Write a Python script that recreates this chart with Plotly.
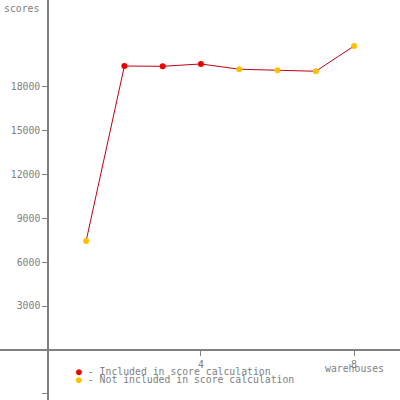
import plotly.graph_objects as go

warehouses = [1, 2, 3, 4, 5, 6, 7, 8]
scores = [7440, 19400, 19380, 19540, 19180, 19110, 19040, 20770]
included = [False, True, True, True, False, False, False, False]

y_tickvals = [-3000, 3000, 6000, 9000, 12000, 15000, 18000]
y_ticktext = ["", "3000", "6000", "9000", "12000", "15000", "18000"]
x_tickvals = [4, 8]
x_ticktext = ["4", "8"]

grey = "#808080"
font = dict(family="DejaVu Sans Mono", size=9.8, color=grey)

inc_x = [w for w, f in zip(warehouses, included) if f]
inc_y = [s for s, f in zip(scores, included) if f]
exc_x = [w for w, f in zip(warehouses, included) if not f]
exc_y = [s for s, f in zip(scores, included) if not f]

fig = go.Figure()
fig.add_trace(go.Scatter(x=warehouses, y=scores, mode="lines",
                         line=dict(color="#c00018", width=1), hoverinfo="skip"))
fig.add_trace(go.Scatter(x=inc_x, y=inc_y, mode="markers",
                         marker=dict(color="#ee0000", size=6, symbol="circle")))
fig.add_trace(go.Scatter(x=exc_x, y=exc_y, mode="markers",
                         marker=dict(color="#ffc000", size=6, symbol="circle")))

fig.update_layout(
    width=400, height=400,
    margin=dict(l=0, r=0, t=0, b=0, autoexpand=False),
    paper_bgcolor="white", plot_bgcolor="white",
    showlegend=False,
    font=font,
    xaxis=dict(range=[-1.25, 9.2], anchor="free", position=0.125,
               automargin=False,
               showgrid=False, zeroline=False, showline=True,
               linecolor=grey, linewidth=1.5,
               ticks="outside", ticklen=5, tickcolor=grey, tickwidth=1,
               tickvals=x_tickvals, ticktext=x_ticktext),
    yaxis=dict(range=[-3424, 23911], anchor="free", position=0.12,
               automargin=False,
               showgrid=False, zeroline=False, showline=True,
               linecolor=grey, linewidth=1.5,
               ticks="outside", ticklen=5, tickcolor=grey, tickwidth=1,
               tickvals=y_tickvals, ticktext=y_ticktext),
)

fig.add_annotation(text="scores", xref="paper", yref="paper", x=0.005, y=0.98,
                   xanchor="left", yanchor="middle", showarrow=False, font=font)
fig.add_annotation(text="warehouses", xref="x", yref="paper", x=8, y=0.08,
                   xanchor="center", yanchor="middle", showarrow=False, font=font)
fig.add_annotation(text="<span style='color:#ee0000'>●</span> - Included in score calculation",
                   xref="paper", yref="paper", x=0.185, y=0.0725,
                   xanchor="left", yanchor="middle", showarrow=False, font=font)
fig.add_annotation(text="<span style='color:#ffc000'>●</span> - Not included in score calculation",
                   xref="paper", yref="paper", x=0.185, y=0.0525,
                   xanchor="left", yanchor="middle", showarrow=False, font=font)

# the page body has a default 8px margin; drop it so the figure fills the window
fig.write_html("out.html", config={"displayModeBar": False},
               post_script="document.body.style.margin='0';")
